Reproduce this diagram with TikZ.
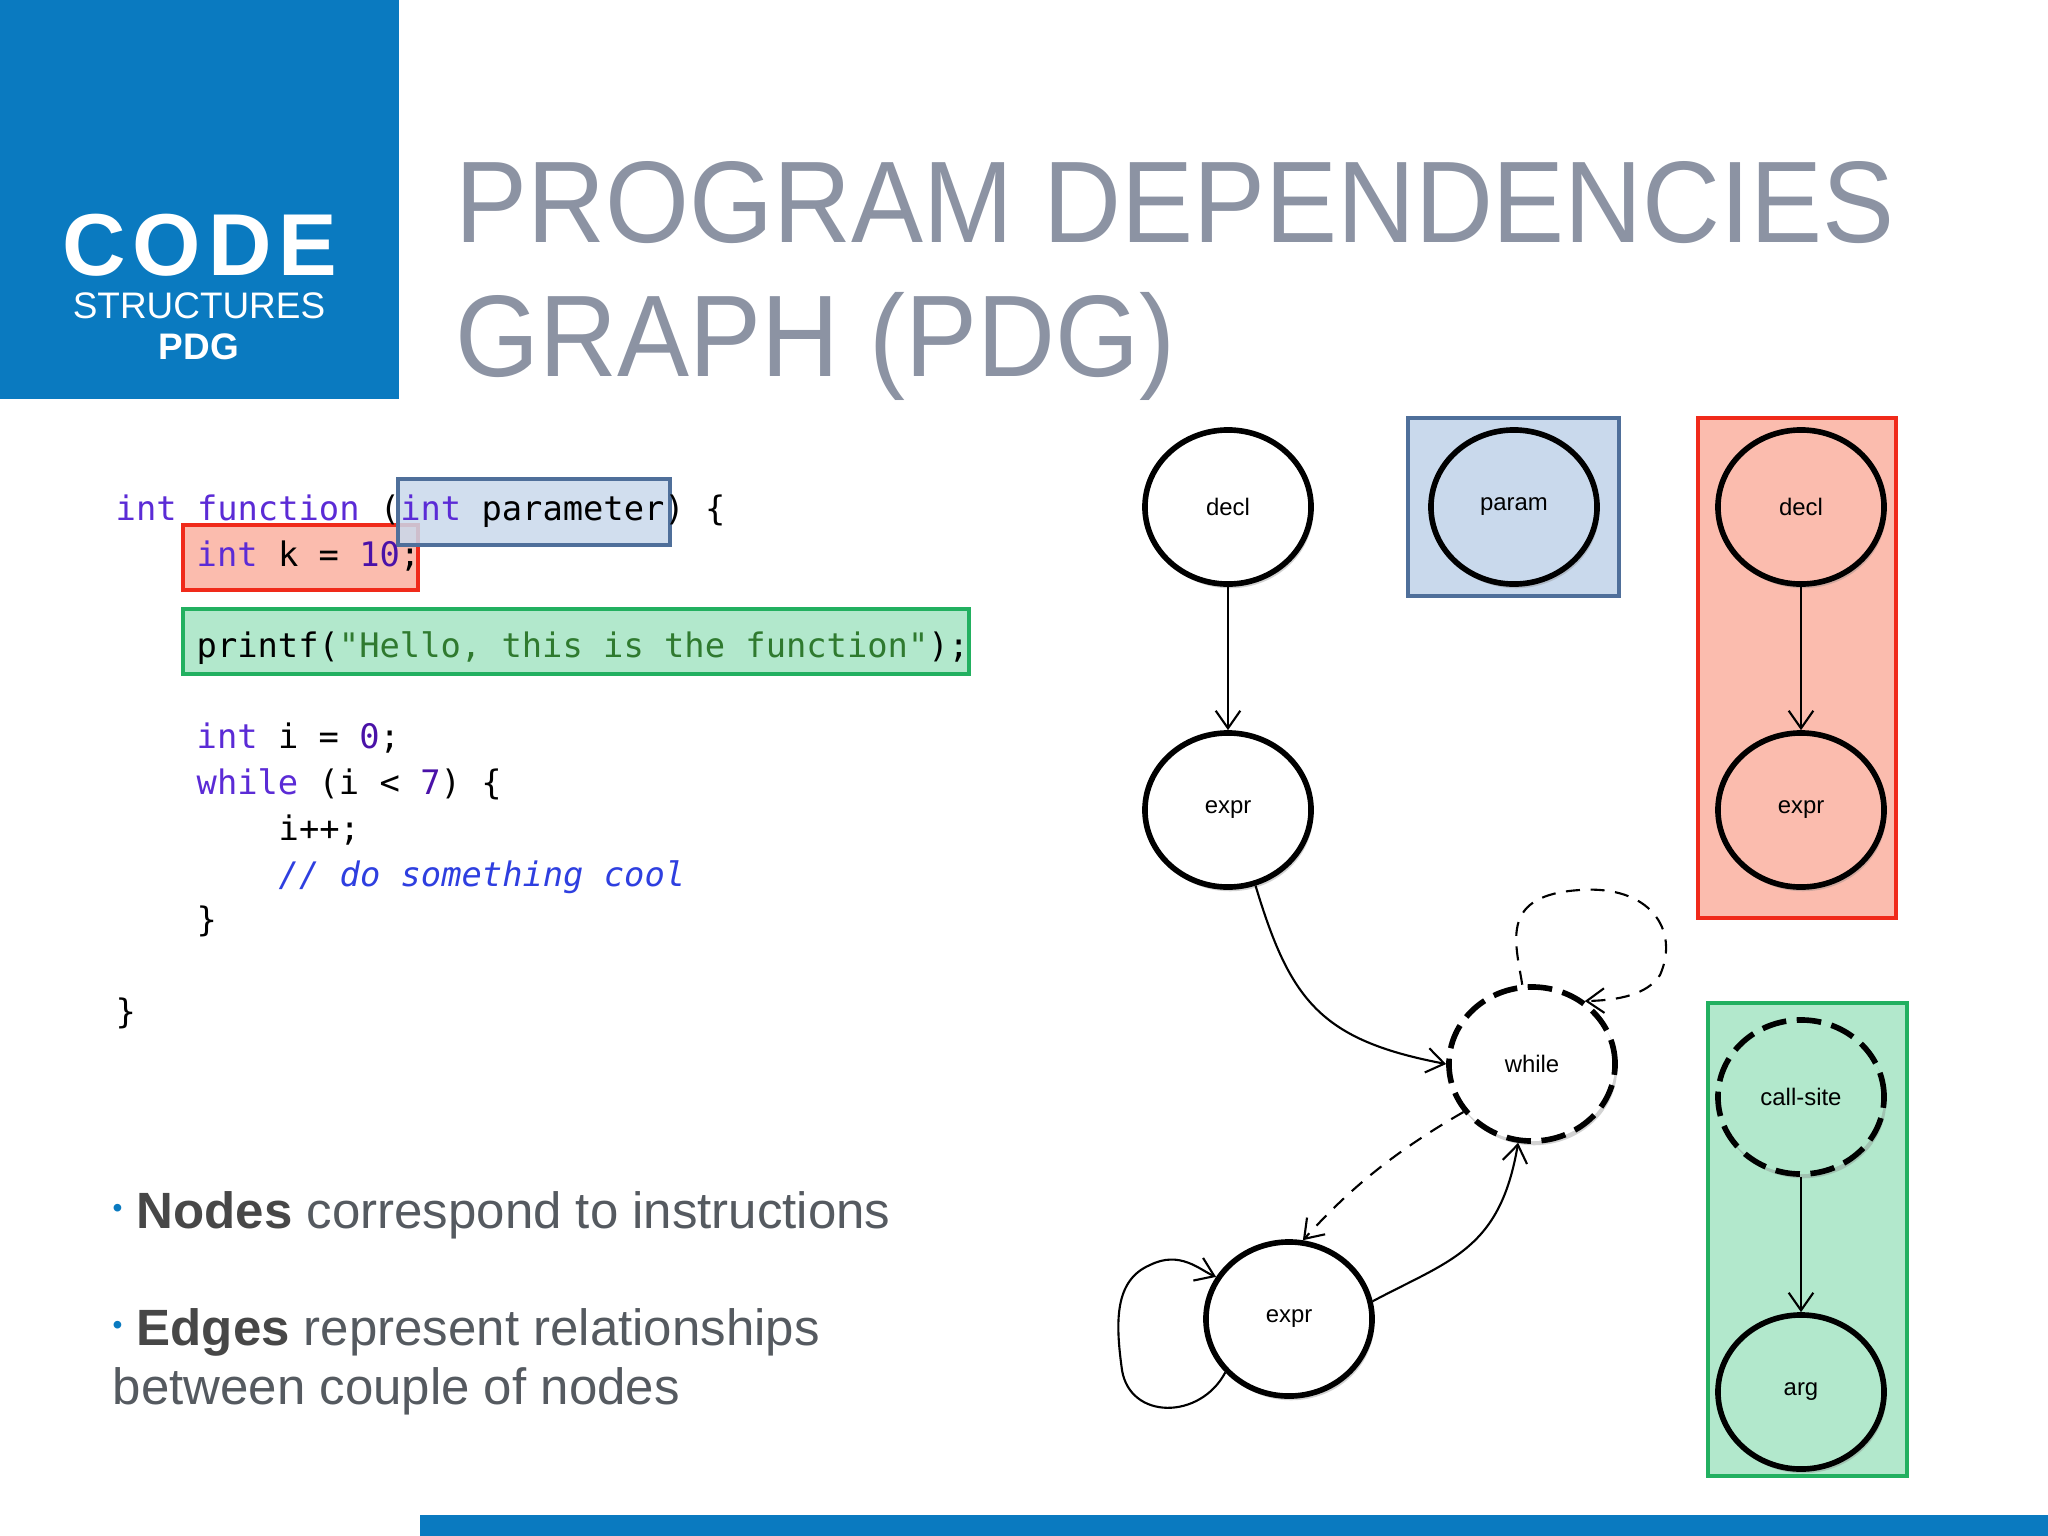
\documentclass[tikz,border=0pt]{standalone}
\usepackage{fontspec}
\setmainfont{Liberation Sans}
\setmonofont{DejaVu Sans Mono}
\usetikzlibrary{arrows.meta,shapes.geometric,shadows}
\definecolor{hdrblue}{HTML}{0A7AC0}
\definecolor{kw}{HTML}{5B2BD6}
\definecolor{num}{HTML}{4A12A8}
\definecolor{str}{HTML}{2F7A2F}
\definecolor{cmt}{HTML}{2E3FE0}
\definecolor{titlegray}{HTML}{8C93A3}
\definecolor{bodygray}{HTML}{555A60}
\definecolor{pblue}{HTML}{C9D9EC}
\definecolor{pblueb}{HTML}{4F6F9A}
\definecolor{pred}{HTML}{FBBCAE}
\definecolor{predb}{HTML}{F02A1A}
\definecolor{pgreen}{HTML}{B2E8CC}
\definecolor{pgreenb}{HTML}{22B060}
\tikzset{
  gnode/.style={ellipse,draw=black,line width=1.6pt,fill=white,minimum width=1.66cm,minimum height=1.54cm,inner sep=0pt,font=\fontsize{6.8}{8}\selectfont,drop shadow={opacity=0.35,shadow xshift=0.6pt,shadow yshift=-1.2pt}},
  dnode/.style={gnode,dash pattern=on 7pt off 3pt},
  edge/.style={line width=0.6pt,-{Straight Barb[length=5pt,width=7pt]}},
  dedge/.style={edge,dash pattern=on 4pt off 3pt},
  code/.style={anchor=base west,inner sep=0pt,font=\ttfamily\fontsize{9.6}{11}\selectfont},
  bul/.style={anchor=base west,inner sep=0pt,text=bodygray,font=\fontsize{14.5}{17}\selectfont},
  ttl/.style={anchor=base west,inner sep=0pt,text=titlegray,font=\fontsize{33}{40}\selectfont}
}
\begin{document}
\begin{tikzpicture}[x=0.01cm,y=-0.01cm]
\useasboundingbox (0,0) rectangle (2048,1536);
\fill[white] (0,0) rectangle (2048,1536);
% header block
\fill[hdrblue] (0,0) rectangle (399,399);
\node[text=white,font=\bfseries\fontsize{25}{28}\selectfont\addfontfeature{LetterSpace=8}] (code) at (200,245) {CODE};
\node[text=white,font=\fontsize{10.5}{12}\selectfont] (struct) at (199,306) {STRUCTURES};
\node[text=white,font=\bfseries\fontsize{10.5}{12}\selectfont] (pdg) at (199,347) {PDG};
% title
\node[ttl] (t1) at (455,242) {\scalebox{0.93}[1]{PROGRAM DEPENDENCIES}};
\node[ttl] (t2) at (455,376) {\scalebox{0.93}[1]{GRAPH (PDG)}};
% code highlight boxes
\fill[pred] (183,525) rectangle (418,590);
\draw[predb,line width=1.2pt] (183,525) rectangle (418,590);
\fill[pblue,opacity=0.85] (398,479) rectangle (670,545);
\draw[pblueb,line width=1.2pt] (398,479) rectangle (670,545);
\fill[pgreen] (183,609) rectangle (969,674);
\draw[pgreenb,line width=1.2pt] (183,609) rectangle (969,674);
% code
\node[code] (c1) at (115,520) {\textcolor{kw}{int} \textcolor{kw}{function} (\textcolor{kw}{int} parameter) \{};
\node[code] (c2) at (196,566) {\textcolor{kw}{int} k = \textcolor{num}{10};};
\node[code] (c3) at (196,657) {printf(\textcolor{str}{"Hello, this is the function"});};
\node[code] (c4) at (196,748) {\textcolor{kw}{int} i = \textcolor{num}{0};};
\node[code] (c5) at (196,794) {\textcolor{kw}{while} (i < \textcolor{num}{7}) \{};
\node[code] (c6) at (278,840) {i++;};
\node[code] (c7) at (278,886) {\textcolor{cmt}{\itshape // do something cool}};
\node[code] (c8) at (196,931) {\}};
\node[code] (c9) at (115,1023) {\}};
% bullets
\node[bul] (b1) at (112,1228) {\textcolor{hdrblue}{\fontsize{8}{8}\selectfont\raisebox{3pt}{•}} \textbf{\textcolor{black!72}{Nodes}} correspond to instructions};
\node[bul] (b2) at (112,1345) {\textcolor{hdrblue}{\fontsize{8}{8}\selectfont\raisebox{3pt}{•}} \textbf{\textcolor{black!72}{Edges}} represent relationships};
\node[bul] (b3) at (112,1404) {between couple of nodes};
% bottom bar
\fill[hdrblue] (420,1515) rectangle (2048,1536);
% frames
\fill[pblue] (1408,418) rectangle (1619,596);
\draw[pblueb,line width=1.2pt] (1408,418) rectangle (1619,596);
\fill[pred] (1698,418) rectangle (1896,918);
\draw[predb,line width=1.4pt] (1698,418) rectangle (1896,918);
\fill[pgreen] (1708,1003) rectangle (1907,1476);
\draw[pgreenb,line width=1.4pt] (1708,1003) rectangle (1907,1476);
% graph nodes
\node[gnode] (decl) at (1228,507) {decl};
\node[gnode] (expr) at (1228,810) {expr};
\node[dnode] (while) at (1532,1064) {while};
\node[gnode] (expr2) at (1289,1319) {expr};
\node[gnode,fill=pblue] (param) at (1514,507) {param};
\node[gnode,fill=pred] (decl2) at (1801,507) {decl};
\node[gnode,fill=pred] (expr3) at (1801,810) {expr};
\node[dnode,fill=pgreen] (cs) at (1801,1097) {call-site};
\node[gnode,fill=pgreen] (arg) at (1801,1392) {arg};
% edges
\draw[edge] (decl) -- (expr);
\draw[edge] (decl2) -- (expr3);
\draw[edge] (cs) -- (arg);
\draw[edge] (expr.-70) .. controls (1290,1000) and (1320,1040) .. (while.west);
\draw[dedge] (while.97) .. controls (1515,940) and (1500,895) .. (1580,890) .. controls (1650,885) and (1680,930) .. (1660,975) .. controls (1650,990) and (1630,1000) .. (while.50);
\draw[dedge] (while.-145) .. controls (1380,1160) and (1340,1200) .. (expr2.80);
\draw[edge] (expr2.12) .. controls (1450,1260) and (1500,1250) .. (while.-100);
\draw[edge] (expr2.-140) .. controls (1200,1420) and (1130,1420) .. (1122,1370) .. controls (1115,1320) and (1115,1280) .. (1150,1265) .. controls (1180,1250) and (1200,1270) .. (expr2.150);
\end{tikzpicture}
\end{document}
